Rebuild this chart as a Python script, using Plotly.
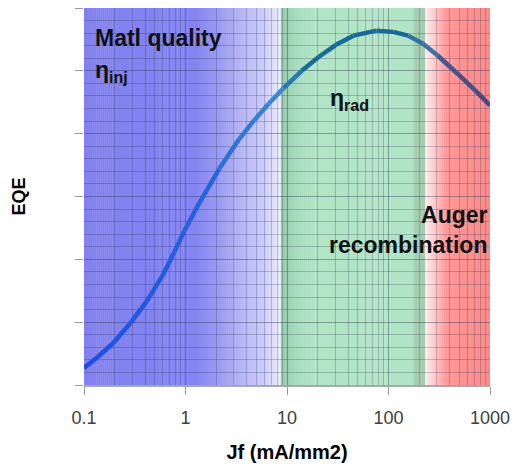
import math
import plotly.graph_objects as go

# Forward current density (mA/mm2) and external quantum efficiency (arb. units)
jf = [0.1, 0.137, 0.192, 0.282, 0.414, 0.594, 0.778, 0.975, 1.37, 2.15, 3.37,
      4.73, 6.63, 9.31, 13.96, 20.5, 30.1, 45.1, 75.8, 111.0, 156.0, 219.0,
      307.0, 482.0, 757.0, 1000.0]
eqe = [0.27, 0.45, 0.66, 0.97, 1.33, 1.74, 2.12, 2.45, 2.90, 3.44, 3.91,
       4.21, 4.48, 4.73, 5.00, 5.22, 5.41, 5.56, 5.64, 5.62, 5.56, 5.43,
       5.24, 4.95, 4.65, 4.45]

x_ticks = [0.1, 1, 10, 100, 1000]
x_tick_labels = ["0.1", "1", "10", "100", "1000"]
x_minor_ticks = [d * m for d in (0.1, 1, 10, 100) for m in range(2, 10)]

# Colour stops of the background bands: (log10 Jf, rgb)
band_stops = [
    (-1.00, (128, 128, 240)), (0.09, (132, 132, 240)), (0.43, (165, 165, 244)),
    (0.775, (205, 205, 250)), (0.93, (236, 236, 252)), (0.949, (238, 238, 252)),
    (0.95, (150, 205, 172)), (1.118, (168, 220, 190)), (1.314, (178, 228, 198)),
    (2.245, (178, 228, 198)), (2.255, (165, 205, 178)), (2.362, (165, 205, 178)),
    (2.363, (255, 238, 238)), (2.57, (255, 150, 150)), (3.00, (252, 140, 140)),
]


def band_color(u):
    for (u0, c0), (u1, c1) in zip(band_stops[:-1], band_stops[1:]):
        if u0 <= u <= u1:
            t = 0 if u1 == u0 else (u - u0) / (u1 - u0)
            return "rgb(%d,%d,%d)" % tuple(round(a + (b - a) * t) for a, b in zip(c0, c1))
    return "rgb(%d,%d,%d)" % band_stops[-1][1]


shapes = []
n_slices = 200
for i in range(n_slices):
    u0 = -1 + 4 * i / n_slices
    u1 = -1 + 4 * (i + 1) / n_slices
    shapes.append(dict(type="rect", xref="x", yref="paper",
                       x0=10 ** u0, x1=10 ** min(u1 + 0.004, 3.0),
                       y0=0, y1=1, line=dict(width=0),
                       fillcolor=band_color((u0 + u1) / 2), layer="below"))

# Curve colour drifts from blue through teal to a dusky violet
curve_stops = [(-1.0, (28, 78, 226)), (0.2, (38, 100, 218)), (0.95, (62, 138, 208)),
               (1.13, (26, 108, 152)), (2.15, (24, 104, 150)), (2.35, (62, 125, 165)),
               (2.55, (70, 88, 145)), (3.0, (80, 68, 128))]


def curve_color(u):
    for (u0, c0), (u1, c1) in zip(curve_stops[:-1], curve_stops[1:]):
        if u0 <= u <= u1:
            t = (u - u0) / (u1 - u0)
            return "rgb(%d,%d,%d)" % tuple(round(a + (b - a) * t) for a, b in zip(c0, c1))
    return "rgb(%d,%d,%d)" % curve_stops[-1][1]


fig = go.Figure()
for i in range(len(jf) - 1):
    mid = (math.log10(jf[i]) + math.log10(jf[i + 1])) / 2
    fig.add_trace(go.Scatter(
        x=jf[i:i + 2], y=eqe[i:i + 2], mode="lines",
        line=dict(color=curve_color(mid), width=4.5),
        hoverinfo="skip", showlegend=False))

grid_minor = "rgba(40,50,80,0.26)"
grid_major = "rgba(40,50,80,0.40)"

fig.update_layout(
    width=518, height=468,
    margin=dict(l=84, r=26, t=8, b=81),
    paper_bgcolor="white", plot_bgcolor="white",
    shapes=shapes,
    showlegend=False,
    font=dict(family="Liberation Sans, Arial, sans-serif", color="black"),
    xaxis=dict(
        type="log", range=[-1, 3],
        tickmode="array", tickvals=x_ticks, ticktext=x_tick_labels,
        tickfont=dict(size=18, color="#404040", family="Liberation Sans, Arial"),
        ticks="outside", ticklen=8, tickcolor="#9a9a9a",
        ticklabelstandoff=8,
        showline=True, linecolor="#a8a8a8", linewidth=1.5,
        showgrid=True, gridcolor=grid_major, gridwidth=1,
        minor=dict(tickmode="array", tickvals=x_minor_ticks, showgrid=True,
                   gridcolor=grid_minor, ticks=""),
        zeroline=False,
        title=dict(text="<b>Jf (mA/mm2)</b>", font=dict(size=20), standoff=18),
    ),
    yaxis=dict(
        range=[0, 6], dtick=1, showticklabels=False,
        ticks="outside", ticklen=8, tickcolor="#9a9a9a",
        showline=False, zeroline=False,
        showgrid=True, gridcolor=grid_major, gridwidth=1,
        minor=dict(dtick=0.2, showgrid=True, gridcolor=grid_minor, ticks=""),
        title=dict(text="<b>EQE</b>", font=dict(size=18), standoff=44),
    ),
)


def px_x(px):
    return (px - 84) / 408


def px_y(py):
    return (387 - py) / 379


annotations = [
    dict(text="<b>Matl quality</b>", x=px_x(93), y=px_y(38), xa="left"),
    dict(text="<b>η<sub>inj</sub></b>", x=px_x(93), y=px_y(72), xa="left"),
    dict(text="<b>η<sub>rad</sub></b>", x=px_x(329), y=px_y(100), xa="left"),
    dict(text="<b>Auger<br>recombination</b>", x=px_x(492), y=px_y(231), xa="right"),
]
for a in annotations:
    fig.add_annotation(text=a["text"], x=a["x"], y=a["y"], xref="paper", yref="paper",
                       xanchor=a["xa"], yanchor="middle",
                       align="right" if a["xa"] == "right" else "left",
                       showarrow=False,
                       font=dict(size=23, color="#111111",
                                 family="Liberation Sans, Arial, sans-serif"))

fig.write_html("out.html")
